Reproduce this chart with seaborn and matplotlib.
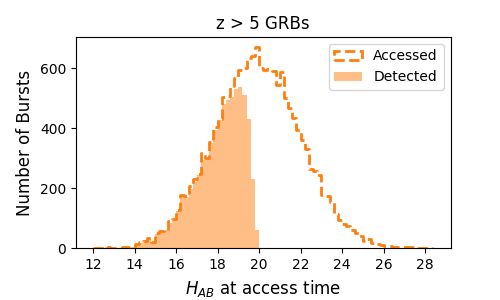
import numpy as np
import pandas as pd
import matplotlib
matplotlib.use("Agg")
import matplotlib.pyplot as plt
from matplotlib.patches import Patch
import seaborn as sns

bin_edges = [round(12.0 + 0.2 * i, 2) for i in range(83)]

accessed_counts = [
    2, 2, 1, 4, 2, 2, 1, 5, 5, 3,
    16, 20, 23, 34, 22, 51, 57, 62, 90, 97,
    129, 178, 175, 207, 230, 249, 318, 302, 354, 404,
    432, 506, 508, 540, 566, 593, 600, 635, 640, 671,
    602, 593, 598, 592, 545, 588, 502, 469, 436, 393,
    360, 331, 266, 258, 243, 179, 176, 154, 113, 96,
    80, 73, 60, 50, 42, 24, 32, 18, 13, 10,
    8, 8, 6, 6, 4, 3, 6, 3, 2, 2,
    2, 1,
]

detected_counts = [
    2, 2, 1, 4, 2, 2, 1, 4, 5, 3,
    15, 19, 22, 32, 22, 48, 55, 60, 86, 95,
    125, 174, 172, 197, 220, 244, 296, 298, 350, 395,
    428, 482, 493, 504, 530, 536, 510, 430, 230, 60,
]

edges_arr = np.array(bin_edges)
centers = (edges_arr[:-1] + edges_arr[1:]) / 2
acc_df = pd.DataFrame({"H": centers, "n": accessed_counts})
det_df = pd.DataFrame({"H": centers[:len(detected_counts)], "n": detected_counts})

fig, ax = plt.subplots(figsize=(5, 3), dpi=100)
fig.subplots_adjust(left=0.152, right=0.901, top=0.877, bottom=0.172)

sns.histplot(data=det_df, x="H", weights="n", bins=bin_edges, element="bars",
             fill=True, color="C1", alpha=0.5, linewidth=0, ax=ax)
sns.histplot(data=acc_df, x="H", weights="n", bins=bin_edges, element="step",
             fill=False, color="C1", linestyle="--", linewidth=2, ax=ax)

ax.set_ylim(bottom=0)
ax.set_xticks(np.arange(12, 29, 2))
ax.set_xlabel("$H_{AB}$ at access time", fontsize=12)
ax.set_ylabel("Number of Bursts", fontsize=12)
ax.set_title("z > 5 GRBs", fontsize=12)

handles = [
    Patch(facecolor="none", edgecolor="C1", linestyle="--", linewidth=2, label="Accessed"),
    Patch(facecolor="C1", alpha=0.5, edgecolor="none", label="Detected"),
]
ax.legend(handles=handles, loc="upper right", fontsize=10)

fig.savefig("out.png", dpi=100)
